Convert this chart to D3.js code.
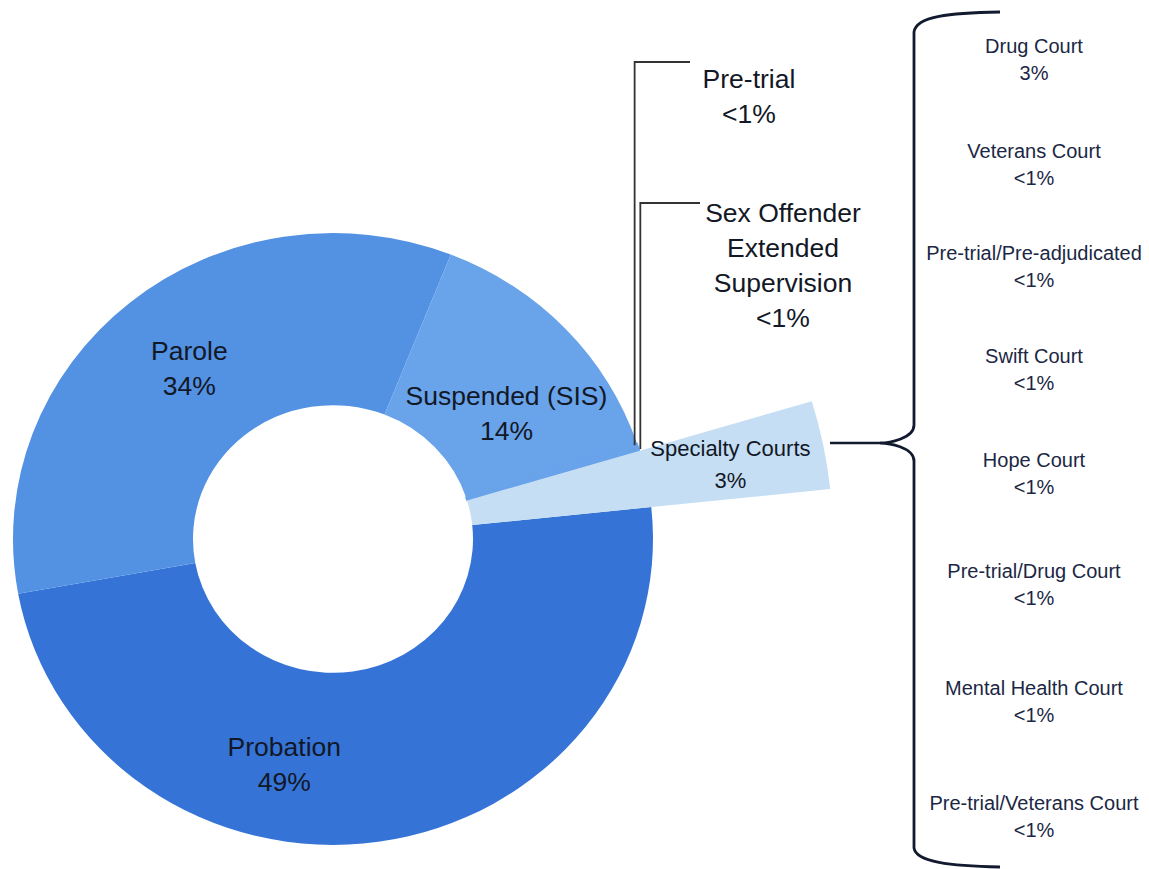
<!DOCTYPE html>
<html>
<head>
<meta charset="utf-8">
<script src="https://cdn.jsdelivr.net/npm/d3@7/dist/d3.min.js"></script>
<style>
  html, body { margin: 0; padding: 0; background: #ffffff; }
  svg { display: block; font-family: "Liberation Sans", Arial, Helvetica, sans-serif; }
</style>
</head>
<body>
<svg id="chart" width="1149" height="869"></svg>
<script>
// Supervision types (donut)
const categories = ["Probation", "Parole", "Suspended (SIS)", "Pre-trial", "Sex Offender Extended Supervision", "Specialty Courts"];
const shares = [49, 34, 14, 0.2, 0.2, 3];
const shareLabels = ["49%", "34%", "14%", "<1%", "<1%", "3%"];

// Breakdown of the specialty courts slice
const courtNames = ["Drug Court", "Veterans Court", "Pre-trial/Pre-adjudicated", "Swift Court", "Hope Court", "Pre-trial/Drug Court", "Mental Health Court", "Pre-trial/Veterans Court"];
const courtShares = ["3%", "<1%", "<1%", "<1%", "<1%", "<1%", "<1%", "<1%"];

// Layout
const W = 1149, H = 869;
const cx = 333, cy = 539, squash = 0.956;
const innerR = 140, outerR = 320, highlightR = 500;
const deg = Math.PI / 180;
const startDeg = 84;

const colors = {
  "Probation": "#3574d6",
  "Parole": "#5391e3",
  "Suspended (SIS)": "#69a3ea",
  "Pre-trial": "#69a3ea",
  "Sex Offender Extended Supervision": "#69a3ea",
  "Specialty Courts": "#c6def3"
};

// label placement in polar terms (radius, angle shift from slice middle)
const labelPlace = {
  "Probation": { r: 241, shift: 19.8 },
  "Parole": { r: 229, shift: 0.5 },
  "Suspended (SIS)": { r: 218, shift: 6 },
  "Specialty Courts": { r: 405, shift: 0.3 }
};

const svg = d3.select("#chart");
const ink = "#121826";
const courtInk = "#1b2744";

const rows = categories.map((c, i) => ({ name: c, value: shares[i], label: shareLabels[i] }));

const pie = d3.pie()
  .sort(null)
  .value(d => d.value)
  .startAngle(startDeg * deg)
  .endAngle((startDeg + 360) * deg);

const arcs = pie(rows);

const arcGen = d3.arc()
  .innerRadius(innerR)
  .outerRadius(d => d.data.name === "Specialty Courts" ? highlightR : outerR);

const ring = svg.append("g")
  .attr("transform", `translate(${cx},${cy}) scale(1,${squash})`);

ring.selectAll("path")
  .data(arcs)
  .join("path")
  .attr("d", arcGen)
  .attr("fill", d => colors[d.data.name])
  .attr("stroke", d => d.value < 1 ? colors[d.data.name] : "none")
  .attr("stroke-width", d => d.value < 1 ? 1.5 : 0);

// polar -> screen (with the vertical squash of the ring)
function polar(r, a) {
  return [cx + r * Math.sin(a), cy - r * Math.cos(a) * squash];
}

// slice labels
const fs = 26.5, lh = 35;
arcs.filter(d => labelPlace[d.data.name]).forEach(d => {
  const p = labelPlace[d.data.name];
  const mid = (d.startAngle + d.endAngle) / 2 + p.shift * deg;
  const [x, y] = polar(p.r, mid);
  const small = d.data.name === "Specialty Courts";
  const size = small ? 22 : fs;
  const step = small ? 32 : lh;
  const t = svg.append("text")
    .attr("text-anchor", "middle")
    .attr("fill", ink)
    .attr("font-size", size);
  t.append("tspan").attr("x", x).attr("y", y - step / 2 + size * 0.35).text(d.data.name);
  t.append("tspan").attr("x", x).attr("y", y + step / 2 + size * 0.35).text(d.data.label);
});

// leader lines for the two thin slices
const leaderStyle = { stroke: "#333333", width: 1.8 };
const leaders = [
  { name: "Pre-trial", topY: 62, endX: 690, lines: ["Pre-trial"], textX: 749, firstBase: 88 },
  { name: "Sex Offender Extended Supervision", topY: 203, endX: 700, lines: ["Sex Offender", "Extended", "Supervision"], textX: 783, firstBase: 222 }
];
leaders.forEach((L, i) => {
  const d = arcs.find(a => a.data.name === L.name);
  const [ax, ay] = polar(outerR, (d.startAngle + d.endAngle) / 2);
  const x = ax - 3 + i * 4.5;
  svg.append("path")
    .attr("d", `M${L.endX},${L.topY} H${x} V${ay}`)
    .attr("fill", "none")
    .attr("stroke", leaderStyle.stroke)
    .attr("stroke-width", leaderStyle.width);
  const t = svg.append("text")
    .attr("text-anchor", "middle")
    .attr("fill", ink)
    .attr("font-size", fs);
  L.lines.concat([d.data.label]).forEach((s, k) => {
    t.append("tspan").attr("x", L.textX).attr("y", L.firstBase + k * 35).text(s);
  });
});

// brace gathering the specialty court breakdown
const braceX = 914, tipX = 880, tipY = 443;
const specLabelRight = 830;
svg.append("path")
  .attr("d", `M${specLabelRight},${tipY} H${tipX}`)
  .attr("stroke", "#111a2e").attr("stroke-width", 2.4).attr("fill", "none");
svg.append("path")
  .attr("d", [
    `M1000,12`,
    `C950,13 916,16 ${braceX},32`,
    `V${tipY - 18}`,
    `C${braceX},${tipY - 4} ${tipX + 8},${tipY} ${tipX},${tipY}`,
    `C${tipX + 8},${tipY} ${braceX},${tipY + 4} ${braceX},${tipY + 18}`,
    `V848`,
    `C916,862 950,866 1000,867`
  ].join(" "))
  .attr("fill", "none")
  .attr("stroke", "#111a2e")
  .attr("stroke-width", 2.8);

// specialty court labels
const courtBaselines = [53, 158, 260, 363, 467, 578, 695, 810];
const courtX = 1034;
courtNames.forEach((n, i) => {
  const t = svg.append("text")
    .attr("text-anchor", "middle")
    .attr("fill", courtInk)
    .attr("font-size", 20);
  t.append("tspan").attr("x", courtX).attr("y", courtBaselines[i]).text(n);
  t.append("tspan").attr("x", courtX).attr("y", courtBaselines[i] + 27).text(courtShares[i]);
});
</script>
</body>
</html>
